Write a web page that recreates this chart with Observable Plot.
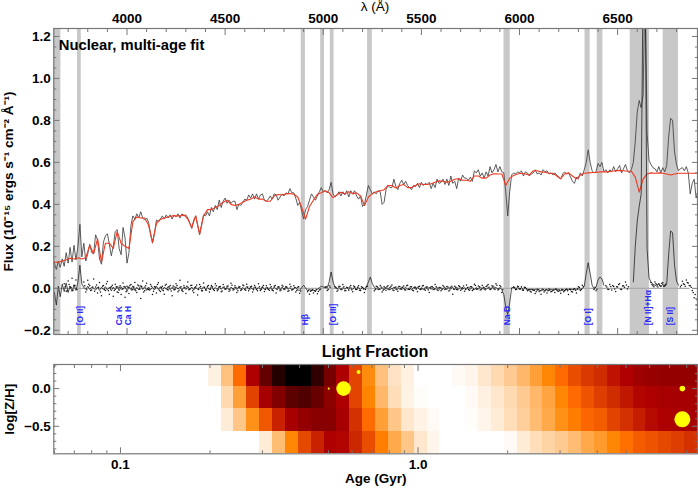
<!DOCTYPE html>
<html><head><meta charset="utf-8">
<script src="https://cdn.jsdelivr.net/npm/d3@7"></script>
<script src="https://cdn.jsdelivr.net/npm/@observablehq/plot@0.6"></script>
<style>
html,body{margin:0;padding:0;background:#fff}
#wrap{position:relative;width:698px;height:488px;font-family:"Liberation Sans",Arial,sans-serif;overflow:hidden}
#wrap svg{position:absolute;left:0;background:transparent}
.lbl{position:absolute;color:#000;white-space:nowrap;transform:translateX(-50%)}
</style></head><body><div id="wrap"></div>
<script>
const _ = null;
// observed spectrum, 10 A sampling starting at 3630 A
const obsFlux = [
.12,.09,.13,.10,.14,.105,.17,.12,.195,.125,.205,.135,.20,.305,.15,.215,.13,.165,.21,.17,
.165,.255,.23,.14,.115,.22,.25,.26,.21,.155,.20,.27,.28,.19,.16,.29,.24,.12,.17,.30,
.345,.33,.355,.335,.365,.335,.325,.335,.315,.26,.215,.26,.325,.32,.33,.345,.33,.35,.335,.35,
.33,.35,.34,.355,.335,.355,.345,.35,.335,.31,.285,.325,.345,.30,.255,.30,.35,.345,.365,.345,
.385,.365,.395,.375,.42,.385,.415,.43,.405,.42,.405,.415,.415,.375,.40,.395,.41,.425,.42,.445,
.43,.45,.425,.45,.425,.445,.45,.42,.415,.425,.44,.425,.45,.445,.42,.435,.45,.44,.455,.45,
.475,.455,.455,.43,.395,.41,.37,.33,.375,.39,.42,.45,.435,.42,.44,.46,.48,.46,.465,.455,
.47,.505,.45,.435,.445,.46,.44,.46,.445,.465,.435,.465,.45,.465,.44,.425,.44,.39,.40,.445,
.49,.47,.45,.46,.45,.465,.46,.40,.41,.47,.49,.48,.48,.52,.485,.47,.50,.515,.495,.51,
.49,.48,.47,.49,.485,.50,.48,.505,.49,.50,.495,.505,.475,.50,.48,.52,.50,.505,.52,.495,
.52,.49,.535,.50,.51,.475,.525,.51,.54,.525,.525,.515,.53,.51,.56,.55,.565,.535,.55,.525,
.555,.535,.58,.55,.565,.59,.555,.58,.555,.55,.46,.345,.46,.54,.55,.545,.555,.55,.56,.535,
.555,.55,.535,.545,.55,.565,.545,.55,.54,.565,.555,.56,.545,.55,.54,.55,.54,.53,.52,.545,
.555,.545,.55,.53,.51,.50,.53,.52,.55,.535,.565,.60,.66,.60,.56,.55,.555,.595,.58,.60,
.555,.565,.55,.565,.555,.58,.555,.57,.585,.55,.57,.59,.56,.55,.565,.60,.70,.84,.895,.86,
.92,1.5,.74,.61,.59,.575,.57,.555,.58,.55,.575,.555,.585,.72,.81,.80,.65,.59,.56,.57,
.575,.56,.58,.55,.45,.50,.52,.43,.46];
// model fit, 20 A sampling starting at 3630 A
const modelFlux = [
.125,.124,.130,.136,.143,.140,.146,.140,.146,.205,.165,.236,.125,.215,.215,.190,.270,.215,.200,.190,
.318,.340,.335,.335,.300,.220,.310,.328,.335,.340,.345,.345,.345,.350,.330,.290,.345,.260,.345,.375,
.375,.385,.395,.410,.420,.400,.395,.400,.410,.420,.425,.435,.425,.425,.415,.415,.440,.447,.445,.450,
.452,.448,.435,.385,.330,.390,.420,.448,.455,.465,.455,.432,.445,.458,.450,.460,.450,.455,.440,.395,
.435,.450,.460,.465,.470,.490,.490,.478,.490,.495,.480,.480,.490,.498,.495,.495,.498,.505,.512,.510,
.505,.510,.520,.522,.515,.515,.510,.535,.535,.525,.525,.540,.546,.545,.545,.490,.525,.538,.545,.548,
.545,.540,.560,.560,.555,.553,.548,.548,.535,.522,.545,.550,.535,.522,.540,.548,.550,.552,.552,.555,
.555,.555,.558,.560,.562,.560,.558,.558,.530,.458,.520,.545,.550,.548,.550,.548,.545,.540,.545,.548,
.548,.548,.548,.548,.548];
// residual trace (milli-flux), 10 A sampling starting at 3630 A
const residTrace = [
-20,-80,10,-40,20,-15,25,-20,10,-15,15,-10,30,110,20,5,-5,10,-5,5,0,-8,5,-10,5,
-5,8,-8,5,-12,6,-8,10,-12,8,-5,10,-15,8,-6,12,-10,5,-8,14,-6,8,-10,6,-6,
5,-8,10,-6,8,-10,6,-4,9,-7,5,-10,8,-4,7,-9,5,-6,8,-5,6,-8,4,-5,6,
-6,8,-4,5,-7,9,-5,4,-6,8,-5,7,-4,5,-8,6,-3,5,-6,7,-5,4,-6,9,-4,
6,-5,7,-4,3,-6,8,-5,4,-6,5,-8,6,-3,5,-7,6,-4,7,-5,3,-6,-2,5,-8,
-10,4,14,2,-12,-6,-10,-8,-12,-5,3,10,6,4,2,30,78,30,4,-3,5,-6,4,-4,5,
-6,4,-5,6,-8,3,-5,4,-3,8,30,54,22,6,-4,5,-6,4,-8,3,-5,6,-3,5,-6,
4,-5,7,-3,5,-6,3,-7,4,-4,6,-5,3,-6,5,-3,4,-5,6,-4,5,-6,3,-4,5,
-6,4,-3,5,-7,4,-3,6,-5,3,-4,6,-3,5,-6,4,-5,7,-3,5,-4,3,-5,4,6,
4,-3,3,-6,-30,-90,-125,-70,3,5,-3,4,-4,3,-6,4,-5,-8,-4,-9,-5,-10,-6,-12,-7,
-10,-5,-12,-6,-8,-4,-10,-5,-12,-6,-9,-4,-7,-3,-6,-2,-7,-3,-5,-2,10,70,122,70,15,
-2,5,40,54,45,15,_,_,_,_,_,_,_,_,_,_,_,_,_,_,30,200,320,390,450,
1500,1500,190,50,30,20,15,10,22,8,20,8,20,160,273,265,110,35,15];
// residual points (milli-flux), 10 A sampling starting at 3630 A; masked bands empty
const residPoints = [
_,_,_,_,_,22,-14,35,8,48,15,40,_,_,_,30,-18,38,12,-8,
45,6,-22,28,-35,14,-10,32,-28,8,-38,20,-18,5,-30,25,-42,10,-25,18,
-6,28,-20,12,-48,35,-12,24,-5,18,-30,8,-22,26,-15,10,-28,20,-8,14,
-35,6,22,-16,38,-10,12,-25,30,-6,15,-20,8,-32,18,-12,25,-8,10,-18,
14,-6,22,-12,8,-16,18,-4,10,-14,24,-8,12,-20,6,-10,16,-5,20,-12,
8,-18,14,-6,22,-10,5,-15,12,-4,18,-9,10,-22,7,-12,15,-5,9,-14,
20,-8,12,-18,5,-24,_,_,_,-16,-28,-10,-22,-14,-26,-8,_,_,6,-10,
12,_,_,8,-14,10,-6,18,-12,5,-9,14,-16,7,-5,12,-10,4,-20,8,
_,_,_,-12,10,-6,14,-18,7,-9,12,-5,16,-10,6,-14,9,-4,11,-8,
15,-6,8,-12,5,-16,10,-3,13,-9,6,-20,8,-5,18,-7,4,-11,14,-6,
9,-13,5,-28,10,-6,12,-9,3,-14,16,-5,7,-10,20,-4,11,-8,15,-3,
9,18,-6,12,-2,22,-8,14,-20,_,_,_,_,_,6,-5,10,-3,7,-9,
4,-12,-5,-18,-8,-25,-4,-15,-28,-6,-12,-22,-3,-16,-9,-20,-5,-14,-24,-8,
-12,-4,-30,-7,-18,-2,-22,8,-10,15,_,_,_,_,_,-6,-12,_,_,_,
_,12,-4,18,-8,9,-15,6,22,-6,12,30,-3,_,_,_,_,_,_,_,
_,_,_,_,28,12,30,18,22,10,26,14,_,_,_,_,_,_,_,8,
34,18,40,25,12,-10,-45,-80,-60];
// further residual points (milli-flux), same sampling shifted by 5 A
const residPointsMid = [
_,_,_,_,_,8,-12,18,4,-9,14,-5,_,_,_,12,-7,20,-10,6,
-14,16,5,-18,10,-6,22,-12,3,15,-10,7,-20,12,-4,9,-16,5,14,-8,
6,-11,16,-4,9,-17,12,-3,-8,10,-14,6,18,-9,4,-12,15,-6,8,-13,
11,-5,14,-9,7,-15,4,10,-7,13,-11,3,16,-6,9,-12,5,-8,14,-4,
7,-10,12,-5,9,-13,6,-3,11,-8,15,-6,4,-11,8,-5,12,-9,6,-3,
10,-7,5,-12,8,-4,13,-6,3,-9,7,-11,14,-5,6,-8,10,-3,5,-12,
9,-6,4,-10,7,-13,_,_,_,-9,-14,-7,-12,-6,-15,-4,_,_,7,-6,
5,_,_,4,-8,9,-5,7,-10,3,6,-7,11,-4,5,-9,8,-3,-6,10,
_,_,_,-6,8,-4,6,-9,3,7,-5,10,-8,4,-6,9,-3,5,-7,12,
-4,7,-9,5,-3,8,-6,11,-4,6,-8,3,9,-5,7,-10,4,-6,8,-3,
6,-8,10,-4,5,-7,9,-3,11,-6,4,-9,7,-5,13,-3,8,-6,5,-7,
12,5,-3,10,-6,15,-4,8,-7,_,_,_,_,_,4,-6,7,-3,-8,5,
-3,-8,-14,-5,-10,-16,-6,-12,-4,-18,-7,-11,-5,-15,-8,-3,-13,-9,-6,-16,
-7,-11,-4,-15,-6,-9,-3,4,-6,8,_,_,_,_,_,5,-4,_,_,_,
_,6,-5,9,14,-3,7,18,-4,11,5,16,8,_,_,_,_,_,_,_,
_,_,_,_,18,8,22,6,14,24,10,20,_,_,_,_,_,_,_,15,
22,10,28,14,5,-20,-30,-55,-100];
const bandStart = [3627,3748,4888,4987,5036,5226,5921,6334,6396,6564,6732];
const bandEnd   = [3663,3767,4909,5006,5055,5250,5953,6360,6425,6662,6810];
const lineNames = ["[O II]","Ca K","Ca H","Hβ","[O III]","Na D","[O I]","[N II]+Hα","[S II]"];
const lineLam   = [3764,3963,4004,4906,5052,5938,6351,6656,6770];
const lamTicks = [4000,4500,5000,5500,6000,6500];
const lamMinor = [3700,3800,3900,4100,4200,4300,4400,4600,4700,4800,4900,5100,5200,5300,5400,5600,5700,5800,5900,6100,6200,6300,6400,6600,6700,6800];
const fluxTicks = [-0.2,0,0.2,0.4,0.6,0.8,1.0,1.2];
const fluxMinor = [-0.15,-0.1,-0.05,0.05,0.1,0.15,0.25,0.3,0.35,0.45,0.5,0.55,0.65,0.7,0.75,0.85,0.9,0.95,1.05,1.1,1.15];
// age grid and light fractions (0 none .. 1 largest)
const ageEdges = [0.1972,0.2178,0.2405,0.2658,0.2936,0.3244,0.3584,0.3959,0.4374,0.4832,0.5338,0.5897,0.6515,0.7197,0.7952,0.8784,0.9705,1.072,1.184,1.308,1.445,1.597,1.764,1.949,2.153,2.378,2.628,2.903,3.207,3.543,3.914,4.324,4.777,5.277,5.830,6.441,7.115,7.861,8.684];
const zEdges = [0.32,0.03,-0.27,-0.57,-0.865];
const rowA = [.03,.13,.31,.53,.73,.90,1,1,.87,.68,.53,.39,.24,.13,.06,.03,0,0,0,.01,.02,.05,.08,.11,.15,.20,.25,.31,.37,.41,.44,.49,.53,.57,.59,.60,.60,.60];
const rowB = [0,.08,.20,.39,.55,.65,.75,.78,.72,.62,.53,.39,.255,.15,.07,.025,.005,0,0,0,.01,.03,.05,.08,.11,.15,.19,.25,.31,.36,.40,.44,.48,.52,.53,.55,.55,.55];
const rowC = [0,.04,.12,.23,.35,.46,.55,.60,.63,.63,.55,.43,.31,.20,.12,.05,.025,.01,0,0,.005,.02,.04,.07,.10,.14,.18,.23,.27,.32,.34,.39,.43,.47,.51,.53,.54,.55];
const rowD = [0,0,0,0,.04,.14,.25,.38,.46,.53,.52,.45,.37,.27,.18,.12,.05,.02,0,0,0,0,0,.01,.04,.07,.09,.11,.14,.18,.21,.25,.30,.34,.36,.38,.40,.43];
const popAge = [0.562,0.501,0.631,7.73,7.73];
const popZ = [0.0,0.0,0.22,0.0,-0.407];
const popWeight = [0.41,0.008,0.03,0.06,0.49];
const ageMinor = [0.06,0.07,0.08,0.09,0.2,0.3,0.4,0.5,0.6,0.7,0.8,0.9,2,3,4,5,6,7,8];
const zMinor = [-0.8,-0.7,-0.6,-0.4,-0.3,-0.2,-0.1,0.1,0.2,0.3];
const heatStops = [0,0.255,0.31,0.53,1];
const heatColors = ["#ffffff","#ff8500","#ff6b00","#ae0000","#000000"];

const lam10 = d3.range(3630,6920,10), lam20 = d3.range(3630,6920,20);
const obs = obsFlux.map((f,i)=>({lam:lam10[i],f}));
const model = modelFlux.map((f,i)=>({lam:lam20[i],f}));
const trace = residTrace.map((m,i)=>({lam:lam10[i],f:m===null?null:m/1000}));
const points = residPoints.map((m,i)=>({lam:lam10[i],f:m===null?null:m/1000}))
  .concat(residPointsMid.map((m,i)=>({lam:lam10[i]+5,f:m===null?null:m/1000})))
  .filter(d=>d.f!==null);
const bands = bandStart.map((a,i)=>({a,b:bandEnd[i]}));
const names = lineNames.map((t,i)=>({t,lam:lineLam[i]}));
const fontBase = {fontFamily:'"Liberation Sans",Arial,sans-serif',fontSize:"13.5px",fontWeight:"bold",background:"transparent",overflow:"visible"};
const fmtFlux = d=>d3.format(".1f")(d).replace("-","\u2212");

const specPlot = Plot.plot({
  width:698,height:340,marginLeft:53.3,marginRight:1,marginTop:28,marginBottom:6,
  style:fontBase,
  x:{domain:[3627,6907]},y:{domain:[-0.22,1.238]},
  marks:[
    Plot.rectX(bands,{x1:"a",x2:"b",fill:"#c8c8c8"}),
    Plot.ruleY([0],{x1:3627,x2:6869,stroke:"#aaaaaa",strokeWidth:1.3}),
    Plot.line(obs,{x:"lam",y:"f",stroke:"#404040",strokeWidth:.85,clip:true,curve:"linear"}),
    Plot.line(model,{x:"lam",y:"f",stroke:"#f03a22",strokeWidth:1.1,clip:true}),
    Plot.line(trace,{x:"lam",y:"f",stroke:"#222222",strokeWidth:.8,clip:true}),
    Plot.dot(points,{x:"lam",y:"f",r:.75,fill:"#111111",stroke:null,clip:true}),
    Plot.text(names,{x:"lam",y:-0.176,text:"t",rotate:-90,textAnchor:"start",fill:"#2a2aff",fontSize:8.5,fontWeight:"bold"}),
    Plot.text(["Nuclear, multi-age fit"],{frameAnchor:"top-left",dx:5,dy:11,fontSize:14.8,fontWeight:"bold",fill:"#000"}),
    Plot.frame({stroke:"#777777",strokeWidth:1.2}),
    Plot.axisX({anchor:"top",ticks:lamTicks,tickSize:0,tickPadding:6,tickFormat:d=>String(d),label:null,fill:"#000"}),
    Plot.axisX({anchor:"top",ticks:lamTicks,tickSize:-6,tickFormat:()=>"",label:null,stroke:"#777"}),
    Plot.axisX({anchor:"top",ticks:lamMinor,tickSize:-3,tickFormat:()=>"",label:null,stroke:"#777"}),
    Plot.axisX({anchor:"bottom",ticks:lamTicks,tickSize:-6,tickFormat:()=>"",label:null,stroke:"#777"}),
    Plot.axisX({anchor:"bottom",ticks:lamMinor,tickSize:-3,tickFormat:()=>"",label:null,stroke:"#777"}),
    Plot.axisY({anchor:"left",ticks:fluxTicks,tickSize:0,tickPadding:3,tickFormat:fmtFlux,label:"Flux (10⁻¹⁵ ergs s⁻¹ cm⁻² Å⁻¹)",labelAnchor:"center",labelArrow:"none",labelOffset:50,fill:"#000"}),
    Plot.axisY({anchor:"left",ticks:fluxTicks,tickSize:-6,tickFormat:()=>"",label:null,stroke:"#777"}),
    Plot.axisY({anchor:"left",ticks:fluxMinor,tickSize:-3,tickFormat:()=>"",label:null,stroke:"#777"}),
    Plot.axisY({anchor:"right",ticks:fluxTicks,tickSize:-6,tickFormat:()=>"",label:null,stroke:"#777"}),
    Plot.axisY({anchor:"right",ticks:fluxMinor,tickSize:-3,tickFormat:()=>"",label:null,stroke:"#777"})
  ]
});
specPlot.style.top="0px";

const cells = [];
[rowA,rowB,rowC,rowD].forEach((row,r)=>row.forEach((v,k)=>cells.push({a0:ageEdges[k],a1:ageEdges[k+1],z0:zEdges[r+1],z1:zEdges[r],v})));
const pops = popAge.map((a,i)=>({a,z:popZ[i],w:popWeight[i]}));

const agePlot = Plot.plot({
  width:698,height:148,marginLeft:53.3,marginRight:1,marginTop:24,marginBottom:34.7,
  style:fontBase,
  x:{type:"log",domain:[0.0597,8.69]},y:{domain:[-0.865,0.32]},
  color:{type:"linear",domain:heatStops,range:heatColors,interpolate:"rgb"},
  r:{type:"sqrt",domain:[0,1],range:[0,11.4]},
  marks:[
    Plot.rect(cells,{x1:"a0",x2:"a1",y1:"z0",y2:"z1",fill:"v",shapeRendering:"crispEdges"}),
    Plot.dot(pops,{x:"a",y:"z",r:"w",fill:"#ffff00",stroke:null}),
    Plot.frame({stroke:"#777777",strokeWidth:1.2}),
    Plot.axisX({anchor:"bottom",ticks:[0.1,1],tickSize:0,tickPadding:6,tickFormat:d3.format(".1f"),label:"Age (Gyr)",labelAnchor:"center",labelArrow:"none",labelOffset:29,fill:"#000"}),
    Plot.axisX({anchor:"bottom",ticks:[0.1,1],tickSize:-6,tickFormat:()=>"",label:null,stroke:"#777"}),
    Plot.axisX({anchor:"bottom",ticks:ageMinor,tickSize:-3,tickFormat:()=>"",label:null,stroke:"#777"}),
    Plot.axisX({anchor:"top",ticks:[0.1,1],tickSize:-6,tickFormat:()=>"",label:null,stroke:"#777"}),
    Plot.axisX({anchor:"top",ticks:ageMinor,tickSize:-3,tickFormat:()=>"",label:null,stroke:"#777"}),
    Plot.axisY({anchor:"left",ticks:[-0.5,0],tickSize:0,tickPadding:3,tickFormat:fmtFlux,label:"log[Z/H]",labelAnchor:"center",labelArrow:"none",labelOffset:49,fill:"#000"}),
    Plot.axisY({anchor:"left",ticks:[-0.5,0],tickSize:-6,tickFormat:()=>"",label:null,stroke:"#777"}),
    Plot.axisY({anchor:"left",ticks:zMinor,tickSize:-3,tickFormat:()=>"",label:null,stroke:"#777"}),
    Plot.axisY({anchor:"right",ticks:[-0.5,0],tickSize:-6,tickFormat:()=>"",label:null,stroke:"#777"}),
    Plot.axisY({anchor:"right",ticks:zMinor,tickSize:-3,tickFormat:()=>"",label:null,stroke:"#777"})
  ]
});
agePlot.style.top="340px";

const wrap = document.getElementById("wrap");
wrap.append(specPlot,agePlot);
function label(text,x,y,size,weight){
  const d=document.createElement("div");d.className="lbl";d.textContent=text;
  d.style.left=x+"px";d.style.top=y+"px";d.style.fontSize=size+"px";d.style.fontWeight=weight;
  wrap.append(d);
}
label("λ (Å)",375,-1,13.5,"normal");
label("Light Fraction",375,343,16,"bold");
</script></body></html>
